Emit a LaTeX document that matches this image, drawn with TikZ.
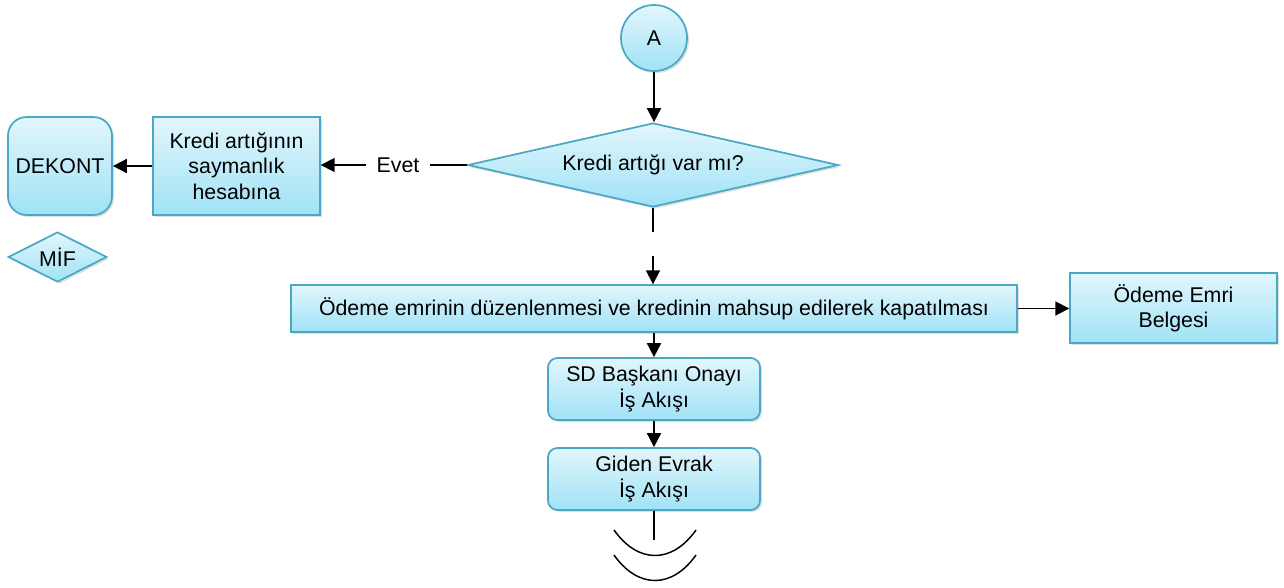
\documentclass[tikz,border=0pt]{standalone}
\usepackage{fontspec}
\setmainfont{Liberation Sans}
\usetikzlibrary{shapes.geometric,arrows.meta,shadows}
\definecolor{bord}{RGB}{75,168,196}
\definecolor{ftop}{RGB}{226,246,252}
\definecolor{fbot}{RGB}{160,226,246}
\begin{document}
\begin{tikzpicture}[x=0.75pt,y=-0.75pt,
  font=\fontsize{16pt}{19pt}\selectfont,
  base/.style={draw=bord,line width=1.3pt,top color=ftop,bottom color=fbot,
    drop shadow={opacity=0.25,shadow xshift=1.5pt,shadow yshift=-1.5pt},
    inner sep=0pt,align=center},
  boxs/.style={base,rectangle},
  rbox/.style={base,rectangle,rounded corners=#1},
  dia/.style={base,diamond},
  conn/.style={line width=1.3pt,black},
  arr/.style={conn,-{Triangle[length=10.5pt,width=10.5pt]}}]
\useasboundingbox (0,0) rectangle (1284,587);
\node[base,circle,minimum size=49.5pt] (A) at (654,38) {A};
\node[dia,aspect=4.4,minimum width=278pt,minimum height=63pt] (D) at (653,165) {Kredi artığı var mı?};
\node[boxs,minimum width=125pt,minimum height=73.5pt] (K) at (236.5,166) {Kredi artığının\\saymanlık\\hesabına};
\node[rbox=14pt,minimum width=78pt,minimum height=73.5pt] (DK) at (60,166) {DEKONT};
\node[dia,aspect=2,minimum width=74pt,minimum height=37.5pt] (M) at (57.5,257) {MİF};
\node[inner sep=0pt,minimum width=48pt,minimum height=15pt] (E) at (398,165) {Evet};
\node[boxs,minimum width=544.5pt,minimum height=35pt] (O) at (654,308.5) {Ödeme emrinin düzenlenmesi ve kredinin mahsup edilerek kapatılması};
\node[boxs,minimum width=155pt,minimum height=52.5pt] (B) at (1173.5,308) {Ödeme Emri\\Belgesi};
\node[rbox=7pt,minimum width=159pt,minimum height=46.5pt] (S) at (654,389) {SD Başkanı Onayı\\İş Akışı};
\node[rbox=7pt,minimum width=159pt,minimum height=46.5pt] (G) at (654,479) {Giden Evrak\\İş Akışı};
\coordinate (d1) at (653,232);
\coordinate (d2) at (653,256);
\coordinate (g1) at (654,540);
\draw[arr] (A.south) -- (A.south |- D.north);
\draw[conn] (D.south) -- (d1);
\draw[arr] (d2) -- (O.north -| d2);
\draw[conn] (D.west) -- (E.east |- D.west);
\draw[arr] (E.west |- D.west) -- (K.east |- D.west);
\draw[arr] (K.west) -- (DK.east);
\draw[arr] (O.east) -- (B.west |- O.east);
\draw[arr] (O.south) -- (S.north);
\draw[arr] (S.south) -- (G.north);
\draw[conn] (G.south) -- (g1);
\draw[line width=1.1pt] (614,530) .. controls (638,564) and (672,564) .. (696,530);
\draw[line width=1.1pt] (614,555) .. controls (638,589) and (672,589) .. (696,555);
\end{tikzpicture}
\end{document}
